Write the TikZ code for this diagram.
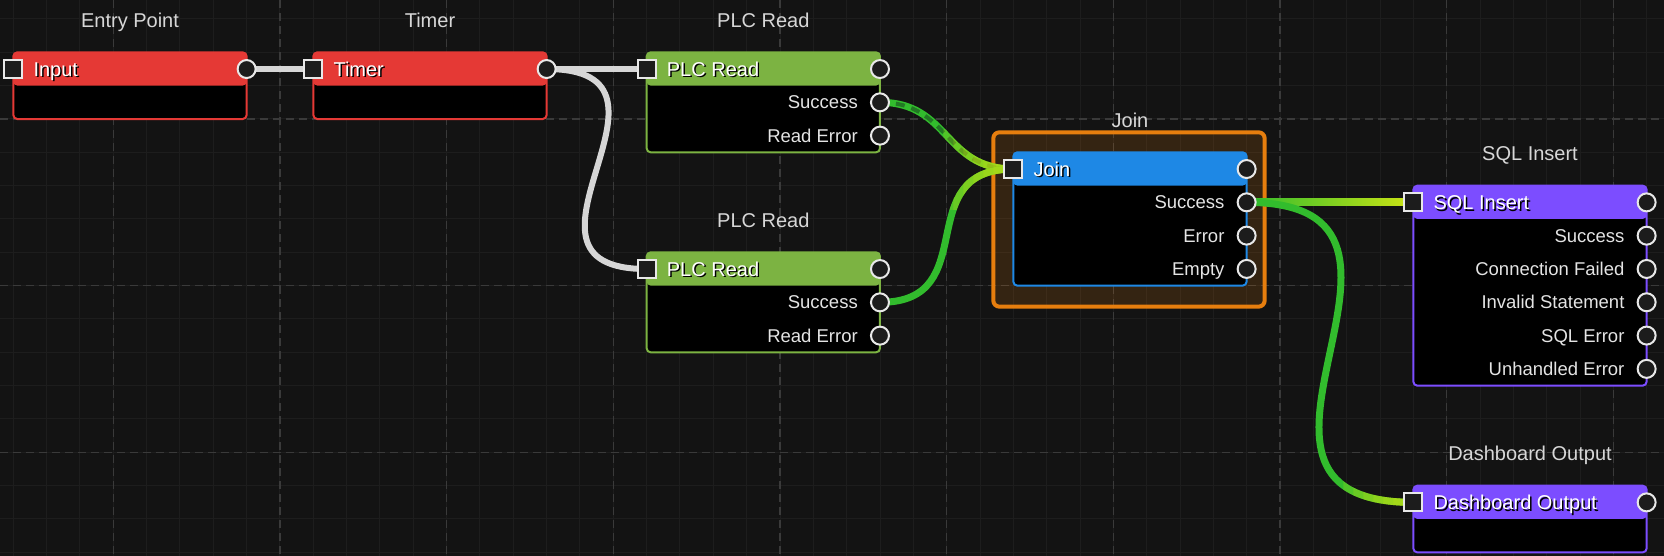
\documentclass[tikz,border=0pt]{standalone}
\usepackage{fontspec}
\setmainfont{Liberation Sans}

\definecolor{canvas}{RGB}{19,19,19}
\definecolor{gridminor}{RGB}{29,29,29}
\definecolor{gridmajor}{RGB}{58,58,58}
\definecolor{nodered}{RGB}{229,57,53}
\definecolor{nodegreen}{RGB}{124,179,66}
\definecolor{nodeblue}{RGB}{30,136,229}
\definecolor{nodepurple}{RGB}{124,77,255}
\definecolor{grouporange}{RGB}{230,126,14}
\definecolor{titlegrey}{RGB}{215,215,215}
\definecolor{labelgrey}{RGB}{228,228,228}
\definecolor{portedge}{RGB}{232,232,232}
\definecolor{portfill}{RGB}{28,28,28}
\definecolor{wiregrey}{RGB}{214,214,214}
\definecolor{wiregreen}{RGB}{50,188,45}
\definecolor{wireyellow}{RGB}{205,228,20}
\definecolor{wiredark}{RGB}{34,120,36}

\pgfdeclarelayer{grid}
\pgfdeclarelayer{wires}
\pgfsetlayers{grid,wires,main}

\newcommand\shadowed[1]{\makebox[0pt][l]{\kern1.5pt\raisebox{-1.5pt}{\color{black}#1}}#1}

% yellow glow at the input end of a wire: #1 from, #2 pull, #3 to
\newcommand\tipglow[3]{%
  \foreach \w in {10,20,...,70} {
    \begin{scope}
      \clip ([xshift=-\w pt,yshift=40pt]#3.center) rectangle ([xshift=20pt,yshift=-40pt]#3.center);
      \draw[tipstep] (#1.center) .. controls +(#2,0) and +(-#2,0) .. (#3.center);
    \end{scope}
  }}

\tikzset{
  minorline/.style={draw=gridminor, line width=1pt},
  majorline/.style={draw=gridmajor, line width=1.2pt, dash pattern=on 8pt off 5pt},
  card/.style={draw=#1, fill=black, line width=2pt, rounded corners=4pt,
    anchor=north west, inner sep=0pt, outer sep=0pt, minimum width=233.3pt,
    path picture={\fill[#1] (path picture bounding box.north west)
      rectangle ([yshift=-33.3pt]path picture bounding box.north east);}},
  groupbox/.style={draw=grouporange, line width=4pt, fill=grouporange,
    fill opacity=0.16, rounded corners=6pt},
  title/.style={text=titlegrey, font=\fontsize{20}{24}\selectfont,
    text height=14.4pt, text depth=0pt, inner sep=0pt},
  headlabel/.style={text=white, font=\fontsize{20}{24}\selectfont,
    text height=14.4pt, text depth=0pt, inner sep=0pt, anchor=west},
  portlabel/.style={text=labelgrey, font=\fontsize{18.5}{22}\selectfont,
    text height=13.2pt, text depth=0pt, inner sep=0pt, anchor=east},
  inport/.style={rectangle, draw=portedge, fill=portfill, line width=2pt,
    minimum size=18pt, inner sep=0pt},
  outport/.style={circle, draw=portedge, fill=portfill, line width=2pt,
    minimum size=18pt, inner sep=0pt},
  greywire/.style={draw=wiregrey, line width=6pt},
  greenwire/.style={draw=wiregreen, line width=7pt},
  tipstep/.style={draw=wireyellow, line width=7pt, draw opacity=0.2},
  flowdash/.style={draw=wiredark, line width=4pt, dash pattern=on 9pt off 7pt}
}

\begin{document}
\begin{tikzpicture}[x=1pt, y=-1pt]
\useasboundingbox (0,0) rectangle (1664,556);

% canvas and grid
\begin{pgfonlayer}{grid}
\fill[canvas] (0,0) rectangle (1664,556);
\foreach \i in {0,...,49} \draw[minorline] ({13.33+33.333*\i},0) -- ++(0,556);
\foreach \j in {0,...,16} \draw[minorline] (0,{19+33.333*\j}) -- ++(1664,0);
\foreach \i in {0,...,9} \draw[majorline] ({113.33+166.67*\i},0) -- ++(0,556);
\foreach \j in {0,...,2} \draw[majorline] (0,{119+166.67*\j}) -- ++(1664,0);
\end{pgfonlayer}

% Entry Point
\node[card=nodered, minimum height=66.7pt] (entry) at (13.33,52.33) {};
\node[title] (entryTitle) at ([yshift=32pt]entry.north) {Entry Point};
\node[headlabel] (entryHead) at ([xshift=20pt,yshift=-16.7pt]entry.north west) {\shadowed{Input}};
\node[inport] (entryIn) at ([yshift=-16.7pt]entry.north west) {};
\node[outport] (entryOut) at ([yshift=-16.7pt]entry.north east) {};

% Timer
\node[card=nodered, minimum height=66.7pt] (timer) at (313.33,52.33) {};
\node[title] (timerTitle) at ([yshift=32pt]timer.north) {Timer};
\node[headlabel] (timerHead) at ([xshift=20pt,yshift=-16.7pt]timer.north west) {\shadowed{Timer}};
\node[inport] (timerIn) at ([yshift=-16.7pt]timer.north west) {};
\node[outport] (timerOut) at ([yshift=-16.7pt]timer.north east) {};

% PLC Read (top)
\node[card=nodegreen, minimum height=100pt] (plcA) at (646.67,52.33) {};
\node[title] (plcATitle) at ([yshift=32pt]plcA.north) {PLC Read};
\node[headlabel] (plcAHead) at ([xshift=20pt,yshift=-16.7pt]plcA.north west) {\shadowed{PLC Read}};
\node[inport] (plcAIn) at ([yshift=-16.7pt]plcA.north west) {};
\node[outport] (plcAOut) at ([yshift=-16.7pt]plcA.north east) {};
\foreach \lab [count=\i] in {Success, Read Error} {
  \node[outport] (plcA-\i) at ([yshift=-16.7pt-33.3pt*\i]plcA.north east) {};
  \node[portlabel] (plcA-\i-lab) at ([xshift=-22pt]plcA-\i.center) {\lab};
}

% PLC Read (bottom)
\node[card=nodegreen, minimum height=100pt] (plcB) at (646.67,252.33) {};
\node[title] (plcBTitle) at ([yshift=32pt]plcB.north) {PLC Read};
\node[headlabel] (plcBHead) at ([xshift=20pt,yshift=-16.7pt]plcB.north west) {\shadowed{PLC Read}};
\node[inport] (plcBIn) at ([yshift=-16.7pt]plcB.north west) {};
\node[outport] (plcBOut) at ([yshift=-16.7pt]plcB.north east) {};
\foreach \lab [count=\i] in {Success, Read Error} {
  \node[outport] (plcB-\i) at ([yshift=-16.7pt-33.3pt*\i]plcB.north east) {};
  \node[portlabel] (plcB-\i-lab) at ([xshift=-22pt]plcB-\i.center) {\lab};
}

% Join
\node[card=nodeblue, minimum height=133.3pt] (join) at (1013.33,152.33) {};
\node[title] (joinTitle) at ([yshift=32pt]join.north) {Join};
\node[headlabel] (joinHead) at ([xshift=20pt,yshift=-16.7pt]join.north west) {\shadowed{Join}};
\node[inport] (joinIn) at ([yshift=-16.7pt]join.north west) {};
\node[outport] (joinOut) at ([yshift=-16.7pt]join.north east) {};
\foreach \lab [count=\i] in {Success, Error, Empty} {
  \node[outport] (join-\i) at ([yshift=-16.7pt-33.3pt*\i]join.north east) {};
  \node[portlabel] (join-\i-lab) at ([xshift=-22pt]join-\i.center) {\lab};
}
\begin{pgfonlayer}{grid}
\draw[groupbox] ([xshift=-20pt,yshift=20pt]join.north west) rectangle ([xshift=18pt,yshift=-21pt]join.south east);
\end{pgfonlayer}

% SQL Insert
\node[card=nodepurple, minimum height=200pt] (sql) at (1413.33,185.67) {};
\node[title] (sqlTitle) at ([yshift=32pt]sql.north) {SQL Insert};
\node[headlabel] (sqlHead) at ([xshift=20pt,yshift=-16.7pt]sql.north west) {\shadowed{SQL Insert}};
\node[inport] (sqlIn) at ([yshift=-16.7pt]sql.north west) {};
\node[outport] (sqlOut) at ([yshift=-16.7pt]sql.north east) {};
\foreach \lab [count=\i] in {Success, Connection Failed, Invalid Statement, SQL Error, Unhandled Error} {
  \node[outport] (sql-\i) at ([yshift=-16.7pt-33.3pt*\i]sql.north east) {};
  \node[portlabel] (sql-\i-lab) at ([xshift=-22pt]sql-\i.center) {\lab};
}

% Dashboard Output
\node[card=nodepurple, minimum height=66.7pt] (dash) at (1413.33,485.67) {};
\node[title] (dashTitle) at ([yshift=32pt]dash.north) {Dashboard Output};
\node[headlabel] (dashHead) at ([xshift=20pt,yshift=-16.7pt]dash.north west) {\shadowed{Dashboard Output}};
\node[inport] (dashIn) at ([yshift=-16.7pt]dash.north west) {};
\node[outport] (dashOut) at ([yshift=-16.7pt]dash.north east) {};

% wires
\begin{pgfonlayer}{wires}
\draw[greywire] (entryOut.center) -- (timerIn.center);
\draw[greywire] (timerOut.center) -- (plcAIn.center);
\draw[greywire] (timerOut.center) .. controls +(160,0) and +(-160,0) .. (plcBIn.center);
\draw[greenwire, postaction={flowdash}] (plcA-1.center) .. controls +(70,0) and +(-70,0) .. (joinIn.center);
\tipglow{plcA-1}{70}{joinIn}
\draw[greenwire] (plcB-1.center) .. controls +(105,0) and +(-105,0) .. (joinIn.center);
\tipglow{plcB-1}{105}{joinIn}
\shade[left color=wiregreen, middle color=wiregreen!75!wireyellow, right color=wireyellow]
      ([yshift=3.5pt]join-1.center) rectangle ([yshift=-3.5pt]sqlIn.center);
\draw[greenwire] (join-1.center) .. controls +(230,0) and +(-230,0) .. (dashIn.center);
\tipglow{join-1}{230}{dashIn}
\end{pgfonlayer}

\end{tikzpicture}
\end{document}
